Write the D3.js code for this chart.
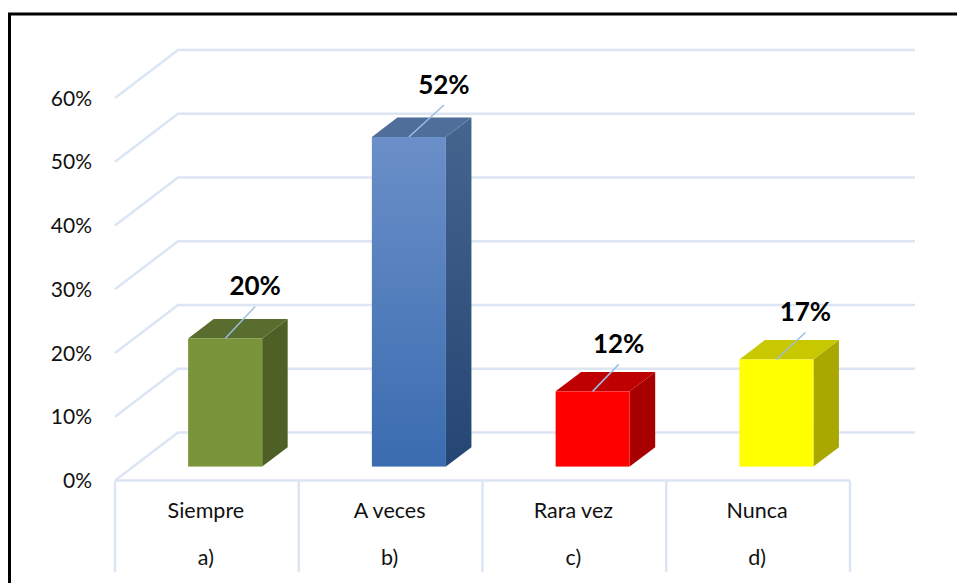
<!DOCTYPE html>
<html>
<head>
<meta charset="utf-8">
<script src="https://cdn.jsdelivr.net/npm/d3@7"></script>
<style>
  html, body { margin: 0; padding: 0; background: #fff; }
  svg { display: block; }
  text { font-family: Lato, sans-serif; fill: #111; }
</style>
</head>
<body>
<div id="chart"></div>
<script>
const categories = ["Siempre", "A veces", "Rara vez", "Nunca"];
const groups = ["a)", "b)", "c)", "d)"];
const values = [0.201, 0.517, 0.118, 0.168];
const yTicks = [0, 0.1, 0.2, 0.3, 0.4, 0.5, 0.6];

const frontColors = [["#7a943c", "#7a943c"], ["#6b8fc8", "#3a6cb0"], ["#ff0000", "#ff0000"], ["#ffff00", "#ffff00"]];
const topColors = ["#596e2e", "#4f6f9a", "#bf0000", "#c8c800"];
const sideColors = [["#4e6026", "#4e6026"], ["#45658f", "#254673"], ["#a80000", "#a80000"], ["#a8a800", "#a8a800"]];

const width = 957;
const height = 583;
const gridColor = "#dbe5f4";

// oblique offset of the back wall, and where the bars sit in that depth
const depth = { x: 63, y: -48 };
const barNear = 0.29;
const barDepth = 0.405;
// where each data label was dragged to, relative to the bar top centre
const labelOffset = [[30, -32], [35, -32], [26, -27], [29, -27]];

const svg = d3.select("#chart")
  .append("svg")
  .attr("width", width)
  .attr("height", height);

const defs = svg.append("defs");

function addGradient(id, stops) {
  const g = defs.append("linearGradient")
    .attr("id", id)
    .attr("x1", 0).attr("y1", 0)
    .attr("x2", 0).attr("y2", 1);
  g.append("stop").attr("offset", "0%").attr("stop-color", stops[0]);
  g.append("stop").attr("offset", "100%").attr("stop-color", stops[1]);
}

categories.forEach((c, i) => {
  addGradient(`front${i}`, frontColors[i]);
  addGradient(`side${i}`, sideColors[i]);
});

// Frame (only top and left show in the crop)
svg.append("path")
  .attr("d", `M9.5,${height}V14H${width}`)
  .attr("fill", "none")
  .attr("stroke", "#000")
  .attr("stroke-width", 3);

const xScale = d3.scaleBand()
  .domain(categories)
  .range([115, 850]);

const yScale = d3.scaleLinear()
  .domain([0, 0.6])
  .range([480.5, 98]);

// Gridlines: slanted on the side wall, flat on the back wall
svg.append("g")
  .selectAll("path")
  .data(yTicks)
  .join("path")
  .attr("d", d => {
    const y = yScale(d);
    return `M115,${y}L${115 + depth.x},${y + depth.y}H915`;
  })
  .attr("fill", "none")
  .attr("stroke", gridColor)
  .attr("stroke-width", 2.4);

// Floor edge and category separators
const separators = categories.map(c => xScale(c)).concat(xScale.range()[1]);

svg.append("line")
  .attr("x1", 115).attr("x2", 850)
  .attr("y1", yScale(0)).attr("y2", yScale(0))
  .attr("stroke", gridColor)
  .attr("stroke-width", 2.4);

svg.append("g")
  .selectAll("line")
  .data(separators)
  .join("line")
  .attr("x1", d => d).attr("x2", d => d)
  .attr("y1", yScale(0)).attr("y2", 572)
  .attr("stroke", gridColor)
  .attr("stroke-width", 2.4);

// Y axis labels
const leftAxis = d3.axisLeft(yScale)
  .tickValues(yTicks)
  .tickFormat(d3.format(".0%"))
  .tickSize(0)
  .tickPadding(0);

const yAxis = svg.append("g")
  .attr("transform", "translate(92, 0.5)")
  .call(leftAxis);
yAxis.select(".domain").remove();
yAxis.selectAll("text")
  .attr("font-size", "21px")
  .style("font-family", "Lato, sans-serif")
  .style("fill", "#111");

// Category labels, two levels
const catLabels = svg.append("g");
categories.forEach((c, i) => {
  const cx = xScale(c) + xScale.bandwidth() / 2;
  catLabels.append("text")
    .attr("x", cx - 1).attr("y", 518)
    .attr("text-anchor", "middle")
    .attr("font-size", "21.5px")
    .text(c);
  catLabels.append("text")
    .attr("x", cx - 1).attr("y", 565)
    .attr("text-anchor", "middle")
    .attr("font-size", "21.5px")
    .text(groups[i]);
});

// Bars
const barWidth = xScale.bandwidth() * 0.403;
const near = { x: depth.x * barNear, y: depth.y * barNear };
const back = { x: depth.x * barDepth, y: depth.y * barDepth };

const bars = svg.append("g")
  .selectAll("g")
  .data(values)
  .join("g");

bars.append("path")
  .attr("d", (d, i) => {
    const cx = xScale(categories[i]) + xScale.bandwidth() / 2 + near.x;
    const right = cx + barWidth / 2;
    const top = yScale(d) + near.y;
    const bottom = yScale(0) + near.y;
    return `M${right},${top}l${back.x},${back.y}V${bottom + back.y}L${right},${bottom}Z`;
  })
  .attr("fill", (d, i) => `url(#side${i})`);

bars.append("path")
  .attr("d", (d, i) => {
    const cx = xScale(categories[i]) + xScale.bandwidth() / 2 + near.x;
    const left = cx - barWidth / 2;
    const top = yScale(d) + near.y;
    return `M${left},${top}l${back.x},${back.y}h${barWidth}l${-back.x},${-back.y}Z`;
  })
  .attr("fill", (d, i) => topColors[i]);

bars.append("rect")
  .attr("x", (d, i) => xScale(categories[i]) + xScale.bandwidth() / 2 + near.x - barWidth / 2)
  .attr("y", d => yScale(d) + near.y)
  .attr("width", barWidth)
  .attr("height", d => yScale(0) - yScale(d))
  .attr("fill", (d, i) => `url(#front${i})`);

// Leader lines and data labels
bars.append("line")
  .attr("x1", (d, i) => xScale(categories[i]) + xScale.bandwidth() / 2 + near.x)
  .attr("y1", d => yScale(d) + near.y)
  .attr("x2", (d, i) => xScale(categories[i]) + xScale.bandwidth() / 2 + near.x + labelOffset[i][0])
  .attr("y2", (d, i) => yScale(d) + near.y + labelOffset[i][1])
  .attr("stroke", "#9dbde3")
  .attr("stroke-width", 1.5);

bars.append("text")
  .attr("x", (d, i) => xScale(categories[i]) + xScale.bandwidth() / 2 + near.x + labelOffset[i][0])
  .attr("y", (d, i) => yScale(d) + near.y + labelOffset[i][1] - 11)
  .attr("text-anchor", "middle")
  .attr("font-size", "26px")
  .attr("font-weight", "700")
  .style("fill", "#000")
  .text(d => d3.format(".0%")(d));
</script>
</body>
</html>
